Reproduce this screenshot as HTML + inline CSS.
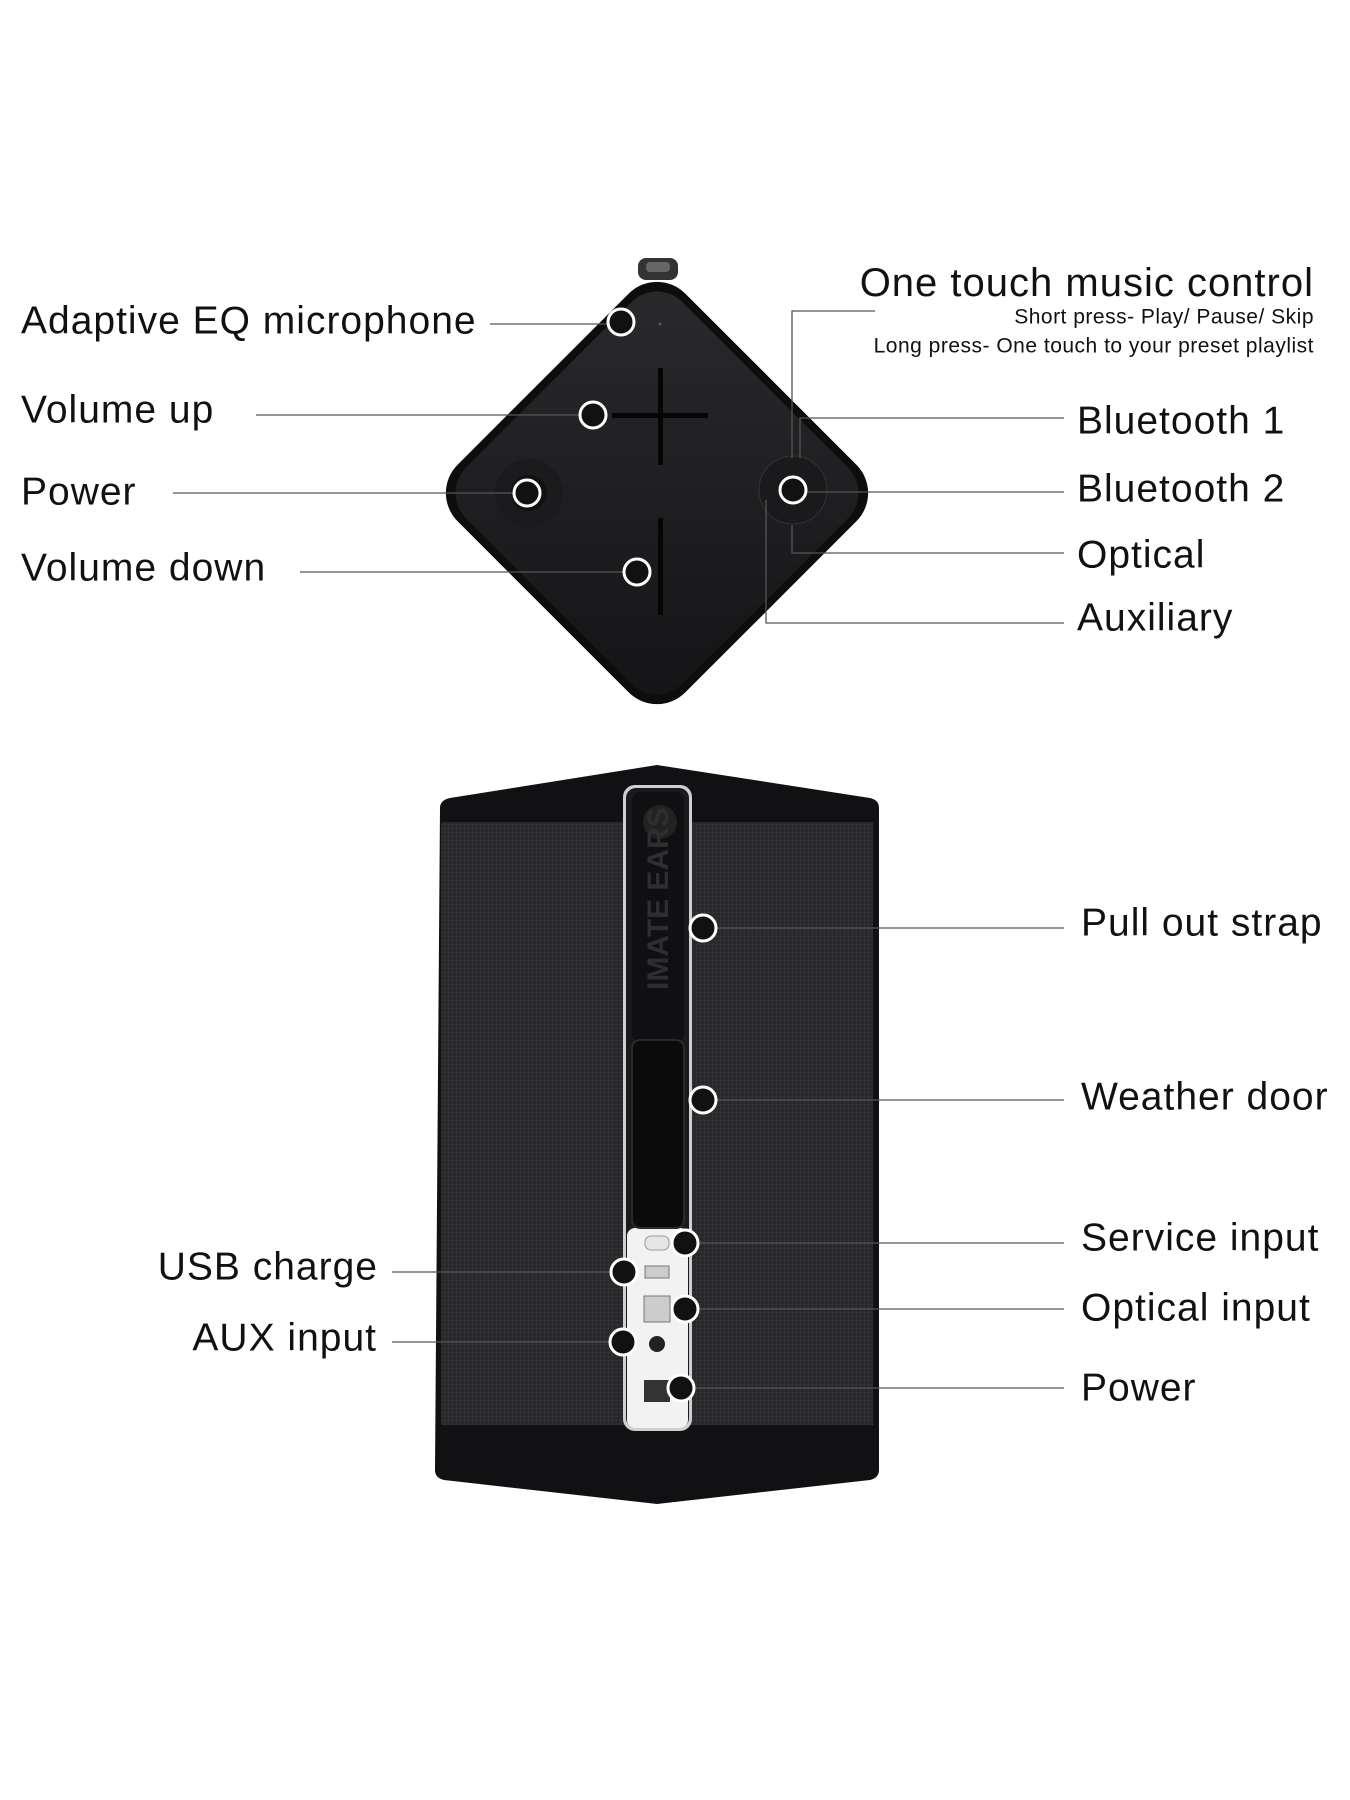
<!DOCTYPE html>
<html><head><meta charset="utf-8"><style>
html,body{margin:0;padding:0;background:#fff;}
svg{display:block;}
text{font-family:"Liberation Sans",sans-serif;fill:#111;}
</style></head><body>
<svg width="1350" height="1800" viewBox="0 0 1350 1800" xmlns="http://www.w3.org/2000/svg">
<defs>
<linearGradient id="dg" x1="0" y1="0" x2="1" y2="1"><stop offset="0" stop-color="#2a2a2c"/><stop offset="1" stop-color="#141416"/></linearGradient>
<pattern id="fab" width="4" height="4" patternUnits="userSpaceOnUse"><rect width="4" height="4" fill="#2b2b2d"/><rect width="1" height="1" fill="#3a3a3c"/><rect x="2" y="2" width="1" height="1" fill="#1f1f21"/></pattern>
</defs>

<!-- TOP DIAMOND -->
<rect x="638" y="258" width="40" height="22" rx="8" fill="#333"/>
<rect x="646" y="262" width="24" height="10" rx="4" fill="#666"/>
<rect x="496" y="332" width="322" height="322" rx="40" transform="rotate(45 657 493)" fill="#0d0d0e"/>
<rect x="504" y="340" width="306" height="306" rx="36" transform="rotate(45 657 493)" fill="url(#dg)"/>
<circle cx="529" cy="493" r="34" fill="#1b1b1d"/>
<circle cx="529" cy="493" r="18" fill="#111"/>
<circle cx="793" cy="490" r="34" fill="#1a1a1c" stroke="#333" stroke-width="1"/>
<circle cx="660" cy="324" r="1.5" fill="#555"/>
<rect x="612" y="413" width="96" height="5" fill="#050505"/>
<rect x="658" y="368" width="5" height="97" fill="#050505"/>
<rect x="658" y="518" width="5" height="97" fill="#050505"/>

<!-- top connectors -->
<g stroke="#555" stroke-width="1.3" fill="none">
<line x1="490" y1="324" x2="608" y2="324"/>
<line x1="256" y1="415" x2="580" y2="415"/>
<line x1="173" y1="493" x2="514" y2="493"/>
<line x1="300" y1="572" x2="624" y2="572"/>
<polyline points="875,311 792,311 792,458"/>
<polyline points="1064,418 800,418 800,458"/>
<line x1="806" y1="492" x2="1064" y2="492"/>
<polyline points="792,525 792,553 1064,553"/>
<polyline points="766,500 766,623 1064,623"/>
</g>
<g fill="#111" stroke="#fff" stroke-width="3">
<circle cx="621" cy="322" r="13"/>
<circle cx="593" cy="415" r="13"/>
<circle cx="527" cy="493" r="13"/>
<circle cx="637" cy="572" r="13"/>
<circle cx="793" cy="490" r="13"/>
</g>

<!-- top labels -->
<g font-size="39" letter-spacing="1" dominant-baseline="central">
<text x="21" y="321">Adaptive EQ microphone</text>
<text x="21" y="410">Volume up</text>
<text x="21" y="492">Power</text>
<text x="21" y="568">Volume down</text>
<text x="1077" y="421">Bluetooth 1</text>
<text x="1077" y="489">Bluetooth 2</text>
<text x="1077" y="555">Optical</text>
<text x="1077" y="618">Auxiliary</text>
<text x="1314" y="283" text-anchor="end" font-size="40">One touch music control</text>
<text x="1314" y="317" text-anchor="end" font-size="21" letter-spacing="0.5">Short press- Play/ Pause/ Skip</text>
<text x="1314" y="346" text-anchor="end" font-size="21" letter-spacing="0.5">Long press- One touch to your preset playlist</text>
</g>

<!-- BOTTOM SPEAKER -->
<path d="M440,808 Q440,800 450,798 L657,765 L870,798 Q879,800 879,808 L879,1470 Q879,1478 870,1480 L657,1504 L444,1480 Q435,1478 435,1470 Z" fill="#111113"/>
<rect x="441" y="822" width="188" height="603" fill="url(#fab)"/>
<rect x="688" y="822" width="185" height="603" fill="url(#fab)"/>
<rect x="623" y="785" width="69" height="646" rx="12" fill="#cfcfd1"/>
<rect x="626" y="788" width="63" height="640" rx="10" fill="#1a1a1c"/>
<rect x="627" y="1228" width="61" height="200" rx="8" fill="#f2f2f2"/>
<rect x="632" y="792" width="52" height="250" rx="8" fill="#101012"/>
<circle cx="660" cy="822" r="17" fill="#222"/>
<text x="0" y="0" font-size="30" font-weight="bold" transform="translate(668,990) rotate(-90)" style="fill:#2e2e30">IMATE EARS</text>
<rect x="632" y="1040" width="52" height="188" rx="8" fill="#0b0b0c" stroke="#2a2a2c" stroke-width="2"/>
<rect x="645" y="1236" width="24" height="14" rx="6" fill="#e6e6e6" stroke="#999"/>
<rect x="645" y="1266" width="24" height="12" fill="#ccc" stroke="#777"/>
<rect x="644" y="1296" width="26" height="26" fill="#ccc" stroke="#777"/>
<circle cx="657" cy="1344" r="8" fill="#222"/>
<rect x="644" y="1380" width="26" height="22" fill="#333"/>

<g stroke="#555" stroke-width="1.3" fill="none">
<line x1="703" y1="928" x2="1064" y2="928"/>
<line x1="703" y1="1100" x2="1064" y2="1100"/>
<line x1="685" y1="1243" x2="1064" y2="1243"/>
<line x1="685" y1="1309" x2="1064" y2="1309"/>
<line x1="681" y1="1388" x2="1064" y2="1388"/>
<line x1="392" y1="1272" x2="624" y2="1272"/>
<line x1="392" y1="1342" x2="623" y2="1342"/>
</g>
<g fill="#111" stroke="#fff" stroke-width="3">
<circle cx="703" cy="928" r="13"/>
<circle cx="703" cy="1100" r="13"/>
<circle cx="685" cy="1243" r="13"/>
<circle cx="624" cy="1272" r="13"/>
<circle cx="685" cy="1309" r="13"/>
<circle cx="623" cy="1342" r="13"/>
<circle cx="681" cy="1388" r="13"/>
</g>
<g font-size="39" letter-spacing="1" dominant-baseline="central">
<text x="1081" y="923">Pull out strap</text>
<text x="1081" y="1097">Weather door</text>
<text x="1081" y="1238">Service input</text>
<text x="1081" y="1308">Optical input</text>
<text x="1081" y="1388">Power</text>
<text x="378" y="1267" text-anchor="end">USB charge</text>
<text x="377" y="1338" text-anchor="end">AUX input</text>
</g>
</svg>
</body></html>
